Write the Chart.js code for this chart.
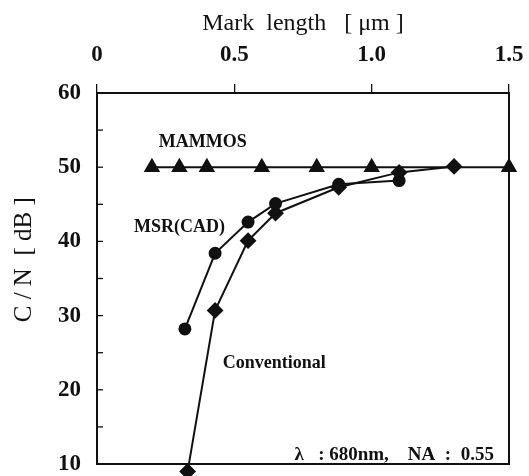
<!DOCTYPE html>
<html>
<head>
<meta charset="utf-8">
<script src="https://cdn.jsdelivr.net/npm/chart.js@4.4.1/dist/chart.umd.min.js"></script>
<style>
  html, body { margin: 0; padding: 0; background: #fff; }
  #wrap { width: 529px; height: 476px; position: relative; }
</style>
</head>
<body>
<div id="wrap"><canvas id="c" width="529" height="476"></canvas></div>
<script>
// ---- data ----
const mammosX = [0.2, 0.3, 0.4, 0.6, 0.8, 1.0, 1.5];
const mammosY = [50, 50, 50, 50, 50, 50, 50];
const msrX = [0.32, 0.43, 0.55, 0.65, 0.88, 1.1];
const msrY = [28.2, 38.4, 42.6, 45.1, 47.7, 48.2];
const convX = [0.33, 0.43, 0.55, 0.65, 0.88, 1.1, 1.3];
const convY = [9.0, 30.7, 40.1, 43.8, 47.3, 49.3, 50.1];
const xTickLabels = ['0', '0.5', '1.0', '1.5'];
const yTickLabels = ['10', '20', '30', '40', '50', '60'];

const SERIF = '"Liberation Serif", "DejaVu Serif", serif';

function pts(xs, ys) { return xs.map((x, i) => ({ x: x, y: ys[i] })); }

const annotations = [
  { text: 'MAMMOS', x: 0.385, y: 53.3, size: 18, align: 'center' },
  { text: 'MSR(CAD)', x: 0.30, y: 41.9, size: 18, align: 'center' },
  { text: 'Conventional', x: 0.645, y: 23.6, size: 18, align: 'center' },
  { text: 'λ   : 680nm,    NA  :  0.55', x: 1.445, y: 11.2, size: 19, align: 'right' }
];

const framePlugin = {
  id: 'frame',
  afterDraw(chart) {
    const ctx = chart.ctx;
    const a = chart.chartArea;
    const ys = chart.scales.y;
    ctx.save();
    ctx.strokeStyle = '#111';
    ctx.lineWidth = 2;
    ctx.strokeRect(a.left, a.top, a.right - a.left, a.bottom - a.top);
    ctx.lineWidth = 1.3;
    for (let v = ys.min; v <= ys.max; v += 5) {
      const py = ys.getPixelForValue(v);
      ctx.beginPath();
      ctx.moveTo(a.left, py);
      ctx.lineTo(a.left + 6, py);
      ctx.stroke();
    }
    ctx.fillStyle = '#111';
    ctx.textBaseline = 'middle';
    annotations.forEach(an => {
      ctx.font = 'bold ' + an.size + 'px ' + SERIF;
      ctx.textAlign = an.align;
      ctx.fillText(an.text, chart.scales.x.getPixelForValue(an.x), ys.getPixelForValue(an.y));
    });
    ctx.restore();
  }
};

const common = {
  borderColor: '#111',
  backgroundColor: '#111',
  pointBackgroundColor: '#111',
  pointBorderColor: '#111',
  borderWidth: 2,
  showLine: true,
  clip: false
};

new Chart(document.getElementById('c'), {
  type: 'scatter',
  data: {
    datasets: [
      Object.assign({ label: 'MAMMOS', data: pts(mammosX, mammosY), pointStyle: 'triangle', pointRadius: 7.5 }, common),
      Object.assign({ label: 'MSR(CAD)', data: pts(msrX, msrY), pointStyle: 'circle', pointRadius: 5.5 }, common),
      Object.assign({ label: 'Conventional', data: pts(convX, convY), pointStyle: 'rectRot', pointRadius: 7 }, common)
    ]
  },
  plugins: [framePlugin],
  options: {
    responsive: false,
    animation: false,
    events: [],
    layout: { padding: { left: 0, top: 0, right: 20, bottom: 12 } },
    plugins: { legend: { display: false }, tooltip: { enabled: false } },
    scales: {
      x: {
        type: 'linear',
        position: 'top',
        min: 0, max: 1.5,
        afterBuildTicks(scale) {
          scale.ticks = xTickLabels.map(t => ({ value: parseFloat(t) }));
        },
        afterFit(scale) { scale.height = 93; scale.paddingLeft = 0; scale.paddingRight = 0; },
        ticks: {
          padding: 15,
          color: '#111',
          font: { family: SERIF, size: 23, weight: 'bold' },
          maxRotation: 0,
          callback(v) { const i = xTickLabels.findIndex(t => parseFloat(t) === v); return i >= 0 ? xTickLabels[i] : ''; }
        },
        grid: { drawOnChartArea: false, drawTicks: true, tickLength: 9, color: '#111', lineWidth: 1.3 },
        border: { display: false },
        title: {
          display: true,
          text: 'Mark  length   [ μm ]',
          color: '#111',
          font: { family: SERIF, size: 24 },
          padding: { top: 9, bottom: 0 }
        }
      },
      y: {
        type: 'linear',
        min: 10, max: 60,
        afterFit(scale) { scale.width = 97; scale.paddingTop = 0; scale.paddingBottom = 0; },
        ticks: {
          stepSize: 10,
          padding: 16,
          color: '#111',
          font: { family: SERIF, size: 23, weight: 'bold' },
          callback(v) { return yTickLabels.includes(String(v)) ? String(v) : ''; }
        },
        grid: { drawOnChartArea: false, drawTicks: false },
        border: { display: false },
        title: {
          display: true,
          text: '      C / N  [ dB ]',
          color: '#111',
          font: { family: SERIF, size: 25 },
          padding: { top: 9, bottom: 0 }
        }
      }
    }
  }
});
</script>
</body>
</html>
